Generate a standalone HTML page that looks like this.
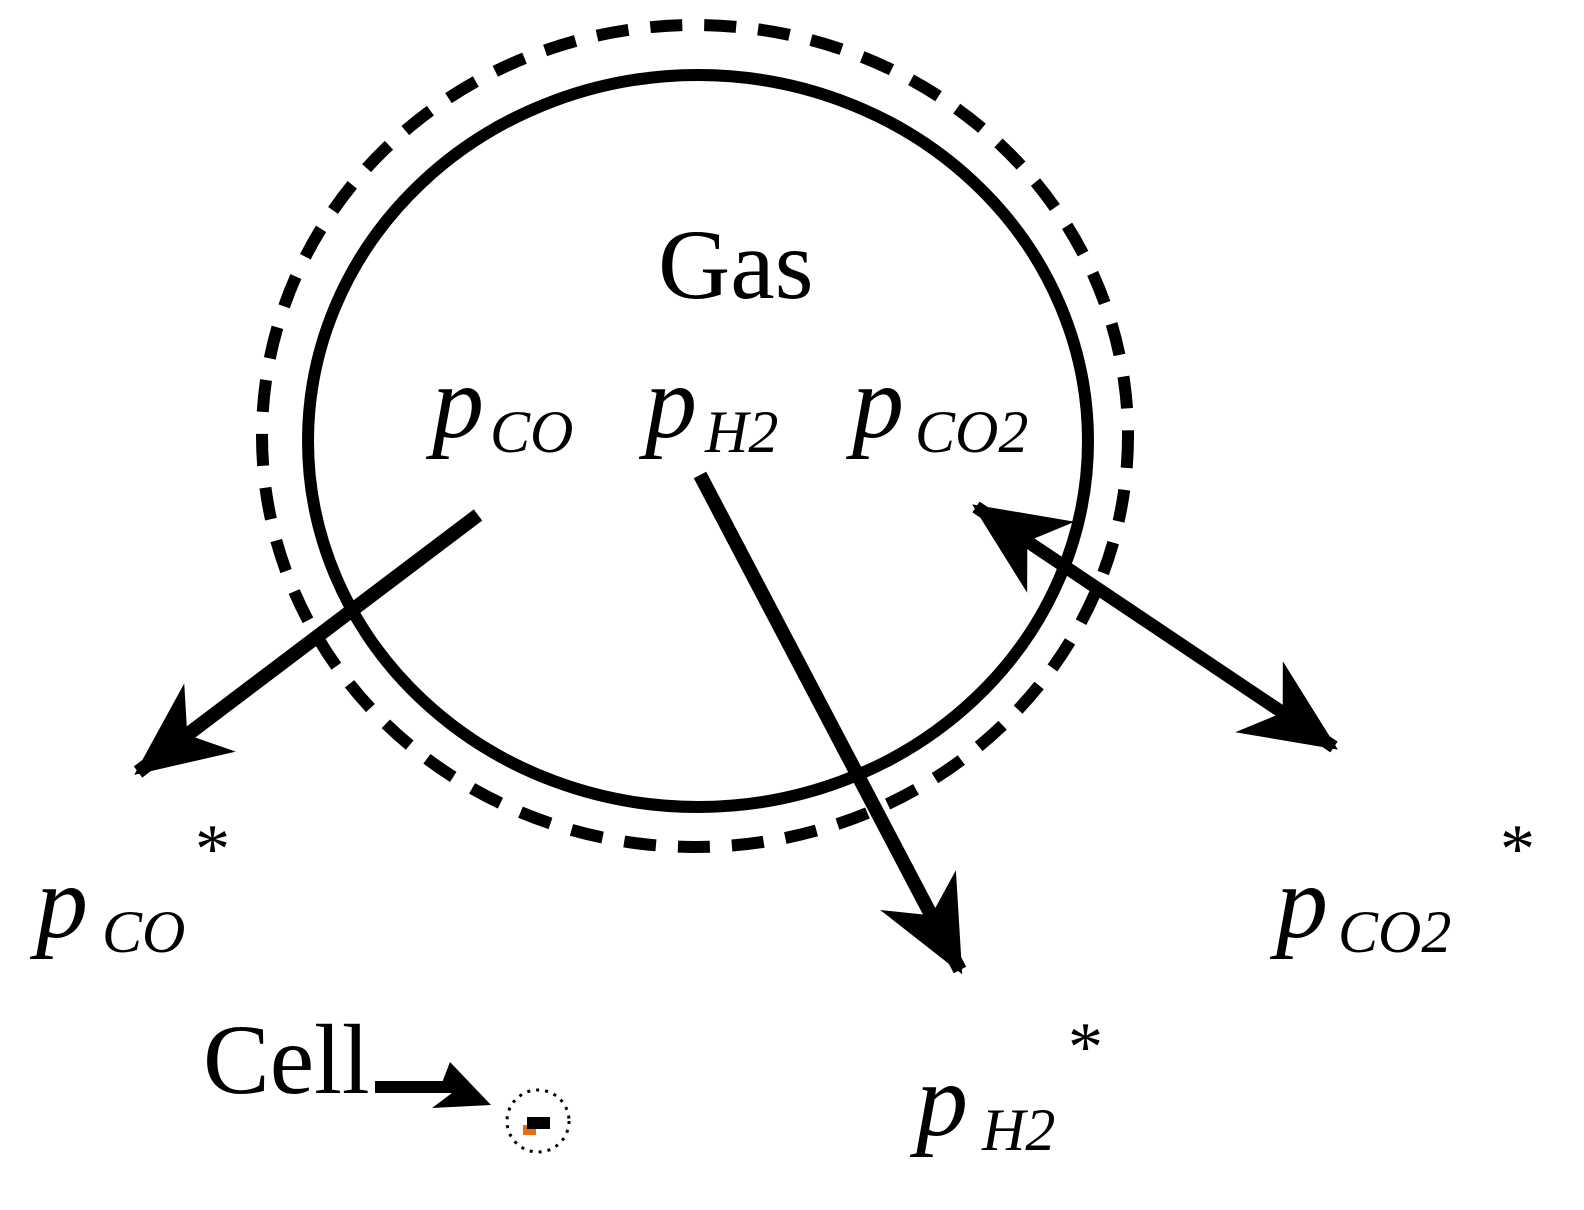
<!DOCTYPE html>
<html><head><meta charset="utf-8"><style>
html,body{margin:0;padding:0;background:#fff}
svg{display:block}
text{font-family:"Liberation Serif",serif;fill:#000}
.p{font-style:italic;font-size:104px}
.s{font-style:italic;font-size:60px}
</style></head><body>
<svg width="1584" height="1210" viewBox="0 0 1584 1210" xmlns="http://www.w3.org/2000/svg">
<defs>
<marker id="h" viewBox="0 0 10 10" refX="9.5" refY="5" markerUnits="userSpaceOnUse" markerWidth="105" markerHeight="95" orient="auto-start-reverse">
<path d="M0,0.5 L10,5 L0,9.5 L3,5 z" fill="#000"/>
</marker>
</defs>
<ellipse cx="698" cy="441" rx="390" ry="366" fill="none" stroke="#000" stroke-width="12"/>
<ellipse cx="695" cy="436" rx="433" ry="411" fill="none" stroke="#000" stroke-width="12" stroke-dasharray="32 22"/>
<line x1="478" y1="515" x2="138" y2="772" stroke="#000" stroke-width="14" marker-end="url(#h)"/>
<line x1="700" y1="475" x2="960" y2="970" stroke="#000" stroke-width="14" marker-end="url(#h)"/>
<line x1="976" y1="507" x2="1334" y2="747" stroke="#000" stroke-width="13" marker-start="url(#h)" marker-end="url(#h)"/>
<rect x="375" y="1081" width="80" height="12" fill="#000"/>
<polygon points="450,1062 491,1105 432,1108 452,1093 440,1088" fill="#000"/>
<circle cx="538" cy="1121" r="31" fill="none" stroke="#000" stroke-width="3" stroke-dasharray="3 6"/>
<rect x="523" y="1125" width="13" height="10" fill="#e07010"/>
<rect x="527" y="1117" width="23" height="12" fill="#000"/>
<text x="658" y="298" style="font-size:100px">Gas</text>
<text x="203" y="1093" style="font-size:100px">Cell</text>
<text class="p" x="432" y="437">p</text><text class="s" x="490" y="452">CO</text>
<text class="p" x="645" y="437">p</text><text class="s" x="705" y="452">H2</text>
<text class="p" x="852" y="437">p</text><text class="s" x="915" y="452">CO2</text>
<text class="p" x="36" y="937">p</text><text class="s" x="102" y="952">CO</text><text x="195" y="872" style="font-size:70px">*</text>
<text class="p" x="1276" y="937">p</text><text class="s" x="1338" y="952">CO2</text><text x="1500" y="872" style="font-size:70px">*</text>
<text class="p" x="916" y="1135">p</text><text class="s" x="982" y="1150">H2</text><text x="1068" y="1070" style="font-size:70px">*</text>
</svg>
</body></html>
